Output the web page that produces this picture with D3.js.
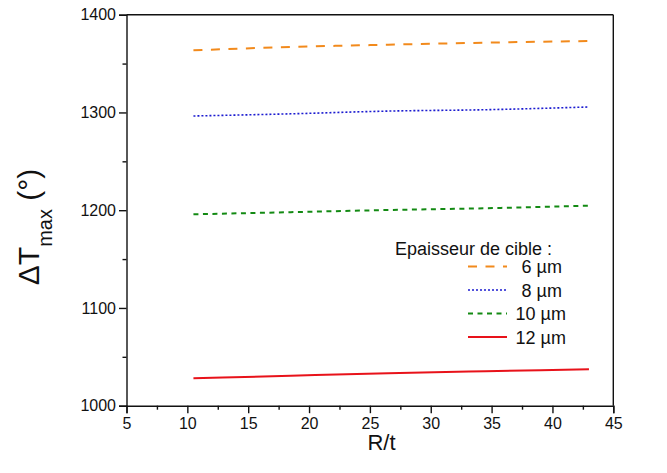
<!DOCTYPE html>
<html>
<head>
<meta charset="utf-8">
<script src="https://cdn.jsdelivr.net/npm/d3@7"></script>
<style>
  html, body { margin: 0; padding: 0; background: #fff; }
  svg { display: block; font-family: "Liberation Sans", Arial, sans-serif; }
</style>
</head>
<body>
<svg id="chart" width="667" height="473"></svg>
<script>
// ---- data ----
const xValues = [10.5, 18.5, 26.5, 34.5, 43];
const seriesNames = ["6 µm", "8 µm", "10 µm", "12 µm"];
const values6 = [1363.6, 1367.0, 1369.3, 1371.4, 1373.1];
const values8 = [1296.4, 1298.6, 1301.4, 1302.8, 1305.6];
const values10 = [1195.8, 1198.0, 1200.2, 1202.0, 1204.6];
const values12 = [1028.0, 1030.7, 1033.2, 1035.2, 1037.3];
const xTicks = [5, 10, 15, 20, 25, 30, 35, 40, 45];
const yTicks = [1000, 1100, 1200, 1300, 1400];
const legendTitle = "Epaisseur de cible :";

const series = [
  { name: seriesNames[0], values: values6, color: "#f28a1c", width: 2, dash: "9,8.5" },
  { name: seriesNames[1], values: values8, color: "#1b1bd0", width: 1.6, dash: "2,2" },
  { name: seriesNames[2], values: values10, color: "#138a13", width: 2, dash: "5,4.5" },
  { name: seriesNames[3], values: values12, color: "#e8121a", width: 2, dash: null }
];

const svg = d3.select("#chart");
const m = { left: 126.5, right: 613.3, top: 14.7, bottom: 405.7 };

const x = d3.scaleLinear().domain([5, 45]).range([m.left, m.right]);
const y = d3.scaleLinear().domain([1000, 1400]).range([m.bottom, m.top]);

// minor ticks
const xMinor = d3.range(5, 45.01, 2.5).filter(v => !xTicks.includes(v));
const yMinor = d3.range(1000, 1400.01, 50).filter(v => !yTicks.includes(v));

// x axis
const gx = svg.append("g").attr("transform", `translate(0,${m.bottom})`);
gx.call(d3.axisBottom(x).tickValues(xTicks).tickSize(7.5).tickPadding(4).tickFormat(d3.format("d")));
gx.append("g").call(d3.axisBottom(x).tickValues(xMinor).tickSize(4).tickFormat(""))
  .select(".domain").remove();

// y axis
const gy = svg.append("g").attr("transform", `translate(${m.left},0)`);
gy.call(d3.axisLeft(y).tickValues(yTicks).tickSize(7.5).tickPadding(3).tickFormat(d3.format("d")));
gy.append("g").call(d3.axisLeft(y).tickValues(yMinor).tickSize(4).tickFormat(""))
  .select(".domain").remove();

svg.selectAll(".tick text").attr("font-size", 16).attr("fill", "#111")
  .attr("font-family", "Liberation Sans, Arial, sans-serif");
svg.selectAll(".domain, .tick line").attr("stroke", "#111").attr("stroke-width", 1.4);

// top & right frame
svg.append("line").attr("x1", x(5)).attr("x2", x(45)).attr("y1", y(1400)).attr("y2", y(1400))
  .attr("stroke", "#111").attr("stroke-width", 1.4);
svg.append("line").attr("x1", x(45)).attr("x2", x(45)).attr("y1", y(1400)).attr("y2", y(1000))
  .attr("stroke", "#111").attr("stroke-width", 1.4);

// lines
const line = d3.line().x((d, i) => x(xValues[i])).y(d => y(d)).curve(d3.curveMonotoneX);
series.forEach(s => {
  svg.append("path").datum(s.values)
    .attr("d", line)
    .attr("fill", "none")
    .attr("stroke", s.color)
    .attr("stroke-width", s.width)
    .attr("stroke-dasharray", s.dash);
});

// axis titles
svg.append("text").attr("x", 381.5).attr("y", 450).attr("text-anchor", "middle")
  .attr("font-size", 22).attr("fill", "#111").text("R/t");

const yt = svg.append("text").attr("transform", "translate(38.5,227) rotate(-90)")
  .attr("text-anchor", "middle").attr("fill", "#111").attr("font-size", 30);
yt.append("tspan").text("ΔT");
yt.append("tspan").attr("font-size", 20).attr("dy", 13).text("max");
yt.append("tspan").attr("dy", -13).text(" (°)");

// legend
svg.append("text").attr("x", 395).attr("y", 255).attr("font-size", 18).attr("fill", "#111").text(legendTitle);
series.forEach((s, i) => {
  const cy = 266.5 + i * 23.5;
  svg.append("line").attr("x1", 468).attr("x2", 507).attr("y1", cy).attr("y2", cy)
    .attr("stroke", s.color).attr("stroke-width", s.width).attr("stroke-dasharray", s.dash);
  svg.append("text").attr("x", i < 2 ? 521.5 : 515.5).attr("y", cy + 6.5)
    .attr("font-size", 18).attr("fill", "#111").text(s.name);
});
</script>
</body>
</html>
